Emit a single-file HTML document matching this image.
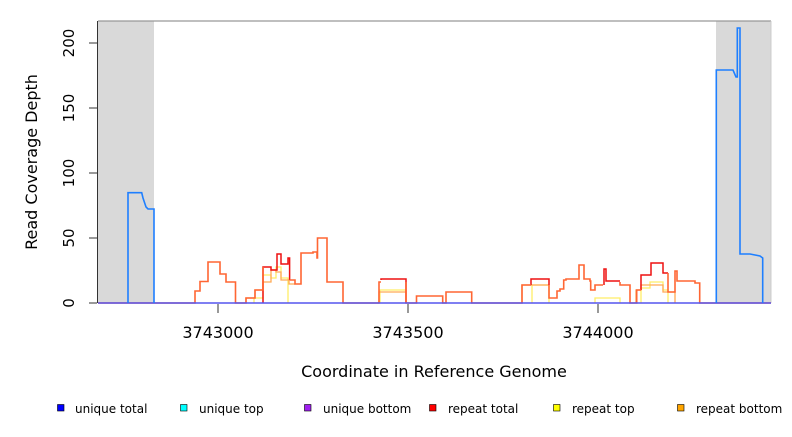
<!DOCTYPE html>
<html><head><style>
body{margin:0;background:#fff;}
svg text{font-family:"DejaVu Sans","Liberation Sans",sans-serif;fill:#000;}
</style></head><body>
<svg width="792" height="432" xmlns="http://www.w3.org/2000/svg">
<rect x="98" y="21" width="56" height="282" fill="#d9d9d9"/>
<rect x="716" y="21" width="55" height="282" fill="#d9d9d9"/>
<line x1="98" y1="21" x2="771" y2="21" stroke="#999" stroke-width="1.2"/>
<line x1="771" y1="21" x2="771" y2="303" stroke="#ccc" stroke-width="1"/>
<line x1="97.5" y1="21" x2="97.5" y2="303" stroke="#333" stroke-width="1"/>
<g stroke="#333" stroke-width="1">
<line x1="89" y1="303" x2="97" y2="303"/><line x1="89" y1="238" x2="97" y2="238"/><line x1="89" y1="173" x2="97" y2="173"/><line x1="89" y1="108" x2="97" y2="108"/><line x1="89" y1="43" x2="97" y2="43"/>
<line x1="218" y1="304" x2="218" y2="313"/><line x1="408" y1="304" x2="408" y2="313"/><line x1="598" y1="304" x2="598" y2="313"/>
</g>
<g font-size="15" text-anchor="middle">
<text transform="translate(74,303) rotate(-90)">0</text>
<text transform="translate(74,238) rotate(-90)">50</text>
<text transform="translate(74,173) rotate(-90)">100</text>
<text transform="translate(74,108) rotate(-90)">150</text>
<text transform="translate(74,43) rotate(-90)">200</text>
<text x="218" y="338" font-size="16">3743000</text><text x="408" y="338" font-size="16">3743500</text><text x="598" y="338" font-size="16">3744000</text>
<text x="434" y="377" font-size="16">Coordinate in Reference Genome</text>
<text transform="translate(37,162) rotate(-90)" font-size="16">Read Coverage Depth</text>
</g>
<g fill="none" stroke-width="1.3">
<path stroke="#ffee66" d="M254,303 V298 H263 V275 H271 V278 H276 V267 H281 V278 H288 V303 M380,303 V290 H406 V303 M532,303 V285 H549 V303 M595,303 V298 H620 V303 M641,303 V288 H650 V282 H663 V290 H668 V303"/>
<path stroke="#ffaa55" d="M246,303 V298 H255 V290 H263 V282 H271 V270 H276 V272 H281 V280 H289 V284 H295 M379,303 V292 H406 M522,303 V285 H549 M636,303 V290 H641 V285 H663 V292 H675 V303"/>
<path stroke="#ee1111" stroke-width="1.5" d="M263,303 V267 H271 V270 H277 V254 H281 V264 H288 V258 H289.6 V280 M381,280 V279 H406 V303 M531,285 V279 H549 V285 M641,290 V275 H651 V263 H663 V273 H668 M604,285 V269 H606 V281 H620"/>
<path stroke="#ff6633" stroke-width="1.6" d="M98,303 H195 V291 H200 V281.5 H208 V262 H220 V274 H226 V282 H235.5 V303 H246 V298 H255 V290 H263 V267 M289.6,280 H295 V284 H301 V253 H313 V252 H317 V258 H317.5 V238 H327 V282 H343 V303 H379 V282 H381 M406,282 V303 H416.5 V296 H442.7 V303 H446 V292 H471.7 V303 H522 V285 H531 M549,285 V298 H557 V291 H560 V289 H563.7 V280 H566 V279 H579 V265 H584 V279 H590 V281 H590.7 V290 H595 V285 H603 V285 M620,282 V285 H630 V303 H636.7 V290 H641 M668,273 V292 H675 V271 H677 V281 H695 V283 H699.7 V303 H771"/>
<path stroke="#5555ee" stroke-width="1.6" d="M98,303 H771"/>
<path stroke="#1e7fff" stroke-width="1.6" d="M128,303 V192.7 H141.7 L143,198 L146,207 L148,209 H154 V303 M716.3,303 V70 H733 L736,77 H737.3 V28 H740 V254 H750 L760,256 L762.7,258 V303"/>
</g>
<g font-size="12">
<rect x="57.5" y="404.5" width="6.5" height="6.5" fill="#0000ff" stroke="#000" stroke-width="0.6"/><text x="75" y="413">unique total</text>
<rect x="180.5" y="404.5" width="6.5" height="6.5" fill="#00ffff" stroke="#000" stroke-width="0.6"/><text x="199" y="413">unique top</text>
<rect x="304.5" y="404.5" width="6.5" height="6.5" fill="#a020f0" stroke="#000" stroke-width="0.6"/><text x="323" y="413">unique bottom</text>
<rect x="429.5" y="404.5" width="6.5" height="6.5" fill="#ff0000" stroke="#000" stroke-width="0.6"/><text x="448" y="413">repeat total</text>
<rect x="553.5" y="404.5" width="6.5" height="6.5" fill="#ffff00" stroke="#000" stroke-width="0.6"/><text x="572" y="413">repeat top</text>
<rect x="677.5" y="404.5" width="6.5" height="6.5" fill="#ffa500" stroke="#000" stroke-width="0.6"/><text x="696" y="413">repeat bottom</text>
</g>
</svg>
</body></html>
